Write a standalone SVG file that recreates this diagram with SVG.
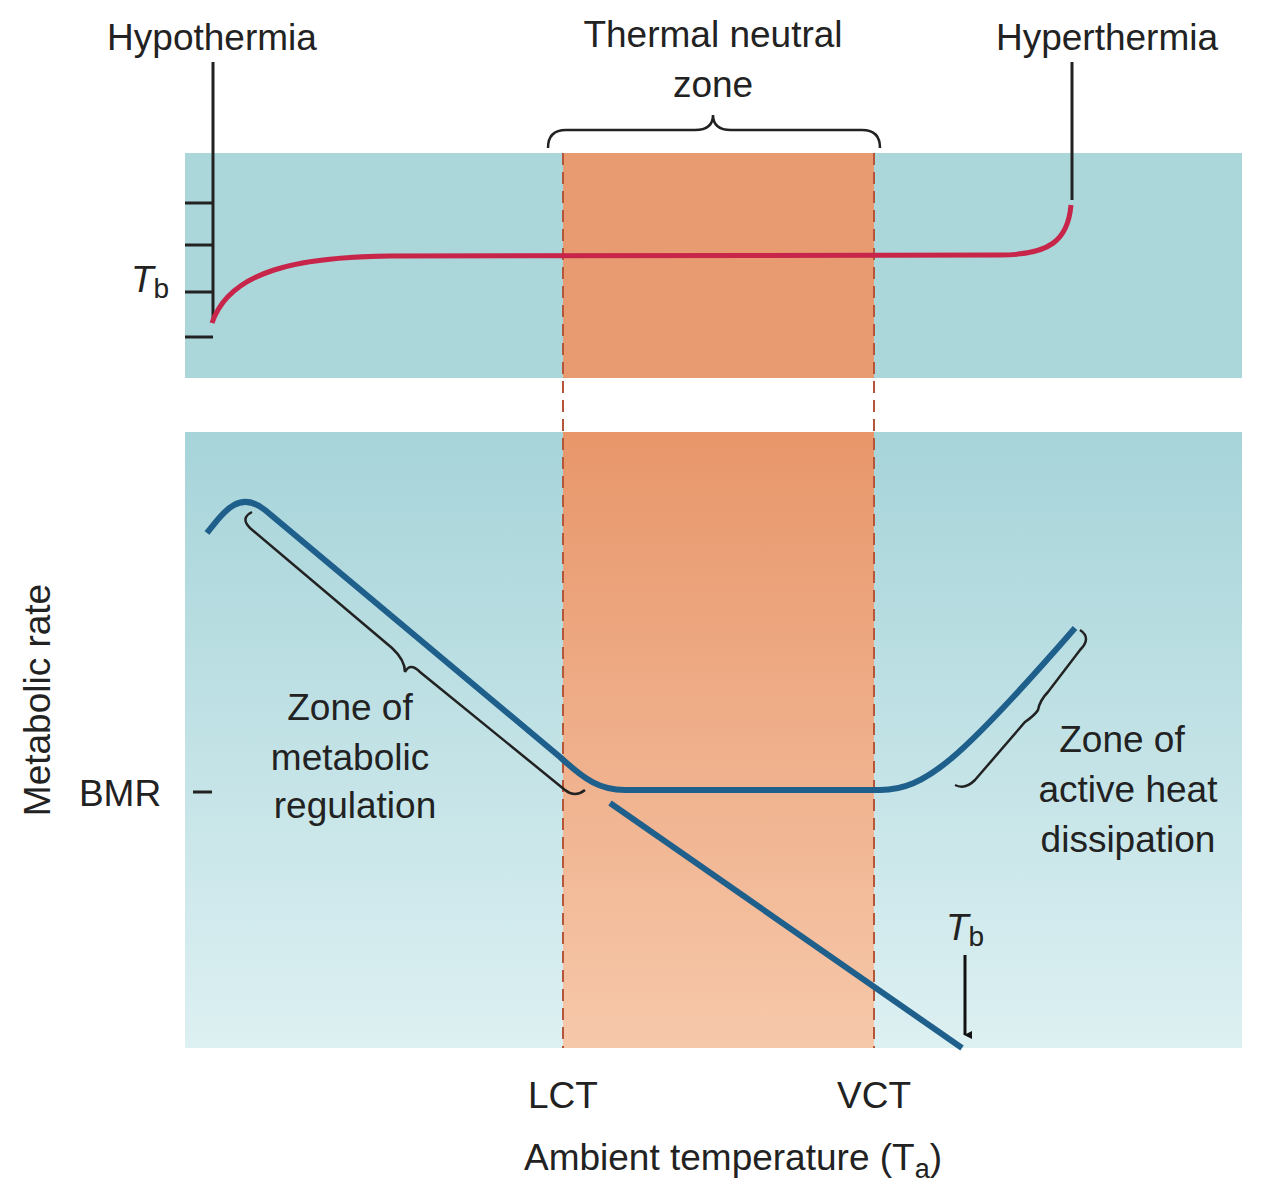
<svg xmlns="http://www.w3.org/2000/svg" width="1264" height="1200" viewBox="0 0 1264 1200">
<defs>
<linearGradient id="bg" x1="0" y1="0" x2="0" y2="1"><stop offset="0" stop-color="#a6d4d9"/><stop offset="1" stop-color="#ddf0f2"/></linearGradient>
<linearGradient id="or" x1="0" y1="0" x2="0" y2="1"><stop offset="0" stop-color="#e8966a"/><stop offset="1" stop-color="#f6c8aa"/></linearGradient>
<marker id="ah" markerWidth="8" markerHeight="8" refX="4" refY="7" orient="auto" markerUnits="userSpaceOnUse" viewBox="0 0 8 8"><path d="M0,0 L8,0 L4,8z" fill="#111"/></marker>
</defs>
<style>
text{font-family:"Liberation Sans",Arial,sans-serif;font-size:37px;fill:#222;text-anchor:middle}
.br{fill:none;stroke:#222;stroke-width:2.5}
.dash{stroke:#b5553a;stroke-width:2;stroke-dasharray:12 7}
</style>
<rect x="185" y="153" width="1057" height="225" fill="#abd6da"/>
<rect x="185" y="432" width="1057" height="616" fill="url(#bg)"/>
<rect x="563" y="153" width="311" height="225" fill="#e89a70"/>
<rect x="563" y="432" width="311" height="616" fill="url(#or)"/>
<line class="dash" x1="563" y1="153" x2="563" y2="1048"/>
<line class="dash" x1="874" y1="153" x2="874" y2="1048"/>
<text x="713" y="47">Thermal neutral</text>
<text x="713" y="97">zone</text>
<path class="br" d="M548,148 Q548,130 566,130 L695,130 Q713,130 713,115 Q713,130 731,130 L862,130 Q880,130 880,148"/>
<text x="212" y="50">Hypothermia</text>
<text x="1107" y="50">Hyperthermia</text>
<g stroke="#222" stroke-width="3">
<line x1="213" y1="62" x2="213" y2="320"/>
<line x1="1072" y1="62" x2="1072" y2="200"/>
<line x1="185" y1="203" x2="213" y2="203"/>
<line x1="185" y1="245" x2="213" y2="245"/>
<line x1="185" y1="292" x2="213" y2="292"/>
<line x1="185" y1="337" x2="213" y2="337"/>
<line x1="193" y1="792" x2="212" y2="792"/>
</g>
<text x="150" y="292" style="font-style:italic">T<tspan style="font-style:normal;font-size:28px" dy="6">b</tspan></text>
<path d="M212,323 C230,270 300,257 390,256 L1000,255 C1050,255 1068,240 1071,205" fill="none" stroke="#c8254a" stroke-width="5"/>
<path d="M207,533 C225,510 240,490 265,510 L560,757 C585,780 600,790 625,790 L880,790 C925,790 960,760 1075,628" fill="none" stroke="#1f5f8b" stroke-width="6"/>
<line x1="610" y1="803" x2="962" y2="1048" stroke="#1f5f8b" stroke-width="6"/>
<line x1="965" y1="955" x2="965" y2="1035" stroke="#111" stroke-width="3" marker-end="url(#ah)"/>
<text x="965" y="940" style="font-style:italic">T<tspan style="font-style:normal;font-size:28px" dy="6">b</tspan></text>
<path class="br" d="M252,512 Q240,518 250,528 L392,648 Q405,660 405,672 Q410,662 420,672 L565,790 Q575,798 585,790"/>
<path class="br" d="M955,785 Q965,790 975,780 L1025,722 Q1035,715 1038,710 Q1040,700 1048,692 L1080,650 Q1092,638 1080,630"/>
<text x="350" y="720">Zone of</text>
<text x="350" y="770">metabolic</text>
<text x="355" y="818">regulation</text>
<text x="1122" y="752">Zone of</text>
<text x="1128" y="802">active heat</text>
<text x="1128" y="852">dissipation</text>
<text x="120" y="806">BMR</text>
<text transform="translate(50,700) rotate(-90)">Metabolic rate</text>
<text x="563" y="1108">LCT</text>
<text x="874" y="1108">VCT</text>
<text x="733" y="1170">Ambient temperature (T<tspan style="font-size:27px" dy="8">a</tspan><tspan dy="-8">)</tspan></text>
</svg>
